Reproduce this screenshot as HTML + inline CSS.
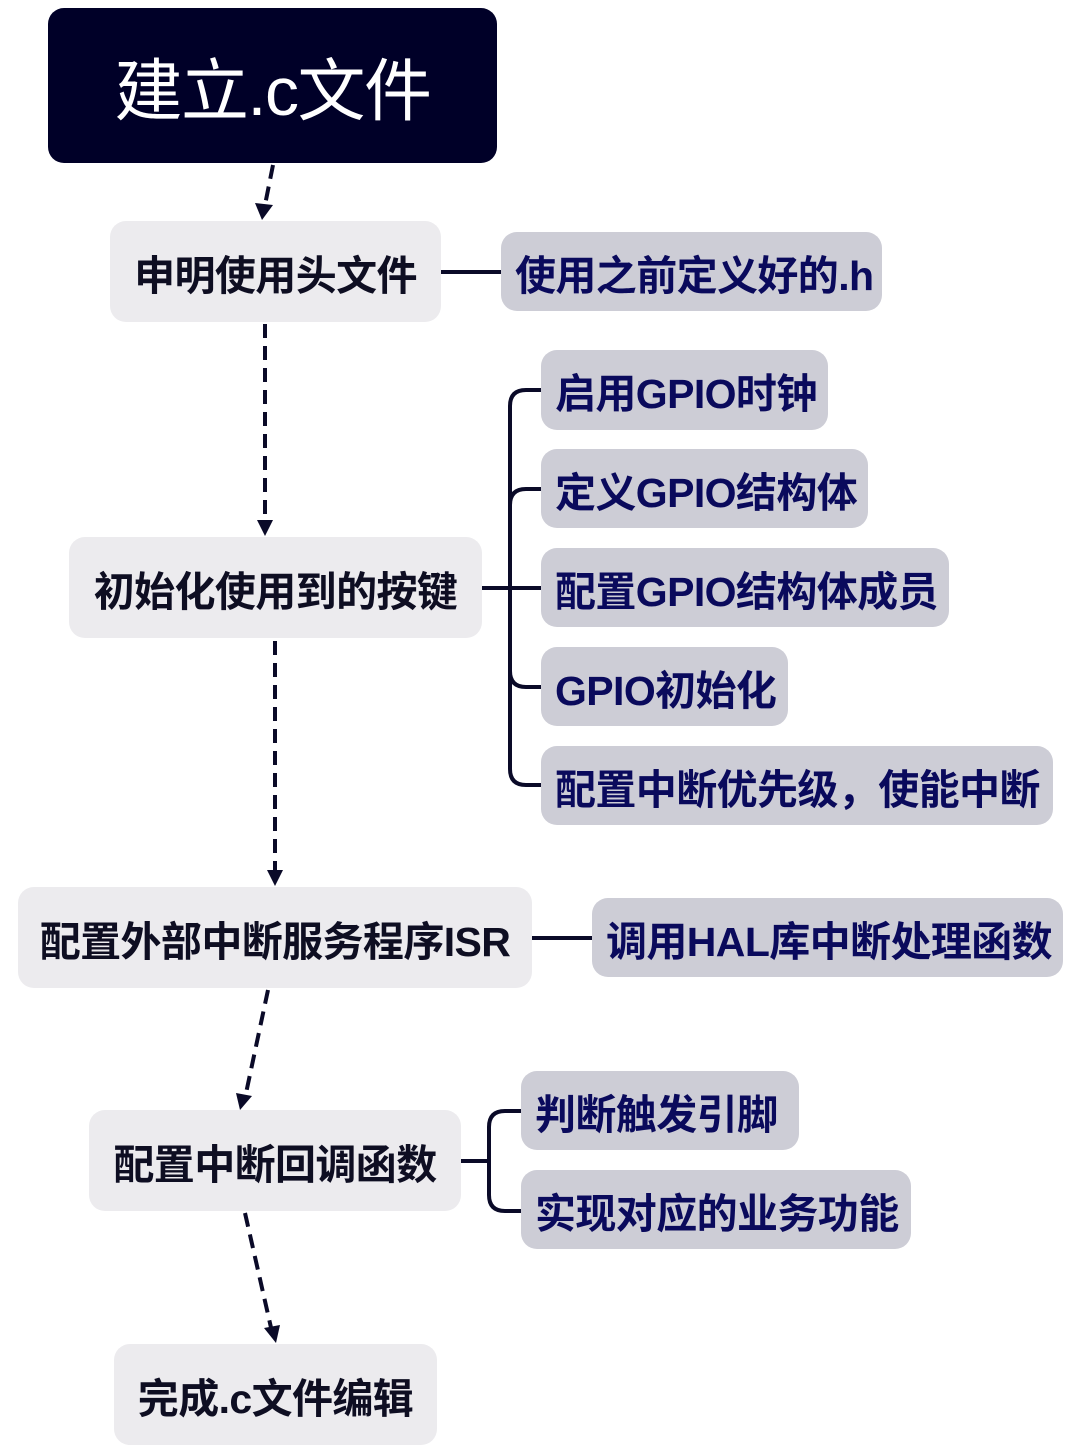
<!DOCTYPE html>
<html><head><meta charset="utf-8"><style>
body{margin:0;width:1065px;height:1450px;background:#fff;position:relative;overflow:hidden;font-family:"Liberation Sans","Noto Sans CJK SC",sans-serif;}
.n{position:absolute;display:flex;align-items:center;justify-content:center;box-sizing:border-box;border-radius:16px;font-weight:bold;font-size:41px;white-space:nowrap;letter-spacing:-0.6px}
.m{background:#ECEBEE;color:#0e0e22}
.s{background:#CDCDD6;color:#0A0A5C;justify-content:flex-start;padding-left:14px}
svg{position:absolute;left:0;top:0}
</style></head><body>
<svg width="1065" height="1450">
<g stroke="#0a0a28" stroke-width="4" fill="none">
<g stroke-dasharray="14,8">
<line x1="273" y1="165" x2="264" y2="210"/>
<line x1="265" y1="324" x2="265" y2="524"/>
<line x1="275" y1="641" x2="275" y2="874"/>
<line x1="268" y1="990" x2="245" y2="1098"/>
<line x1="245" y1="1213" x2="272" y2="1332"/>
</g>
<line x1="441" y1="272" x2="501" y2="272"/>
<line x1="482" y1="588" x2="541" y2="588"/>
<path d="M541,390 H526 Q510,390 510,406 V769 Q510,785 526,785 H541"/>
<path d="M510,505 Q510,489 526,489 H541"/>
<path d="M510,671 Q510,687 526,687 H541"/>
<line x1="532" y1="938" x2="592" y2="938"/>
<line x1="461" y1="1161" x2="489" y2="1161"/>
<path d="M521,1111 H505 Q489,1111 489,1127 V1195 Q489,1211 505,1211 H521"/>
</g>
<g fill="#0a0a28">
<path d="M255,203 L273,205 L262,220 Z"/>
<path d="M257,520 L273,520 L265,536 Z"/>
<path d="M267,870 L283,870 L275,886 Z"/>
<path d="M236,1093 L252,1096 L240,1110 Z"/>
<path d="M264,1328 L280,1325 L276,1343 Z"/>
</g>
</svg>
<div class="n" style="left:48px;top:8px;width:449px;height:155px;background:#000028;color:#fff;font-weight:normal;font-size:68px;letter-spacing:-1.5px">建立.c文件</div>
<div class="n m" style="left:110px;top:221px;width:331px;height:101px">申明使用头文件</div>
<div class="n s" style="left:501px;top:232px;width:381px;height:79px">使用之前定义好的.h</div>
<div class="n m" style="left:69px;top:537px;width:413px;height:101px">初始化使用到的按键</div>
<div class="n s" style="left:541px;top:350px;width:287px;height:80px">启用GPIO时钟</div>
<div class="n s" style="left:541px;top:449px;width:327px;height:79px">定义GPIO结构体</div>
<div class="n s" style="left:541px;top:548px;width:408px;height:79px">配置GPIO结构体成员</div>
<div class="n s" style="left:541px;top:647px;width:247px;height:79px">GPIO初始化</div>
<div class="n s" style="left:541px;top:746px;width:512px;height:79px">配置中断优先级，使能中断</div>
<div class="n m" style="left:18px;top:887px;width:514px;height:101px">配置外部中断服务程序ISR</div>
<div class="n s" style="left:592px;top:898px;width:471px;height:79px">调用HAL库中断处理函数</div>
<div class="n m" style="left:89px;top:1110px;width:372px;height:101px">配置中断回调函数</div>
<div class="n s" style="left:521px;top:1071px;width:278px;height:79px">判断触发引脚</div>
<div class="n s" style="left:521px;top:1170px;width:390px;height:79px">实现对应的业务功能</div>
<div class="n m" style="left:114px;top:1344px;width:323px;height:101px">完成.c文件编辑</div>
</body></html>
